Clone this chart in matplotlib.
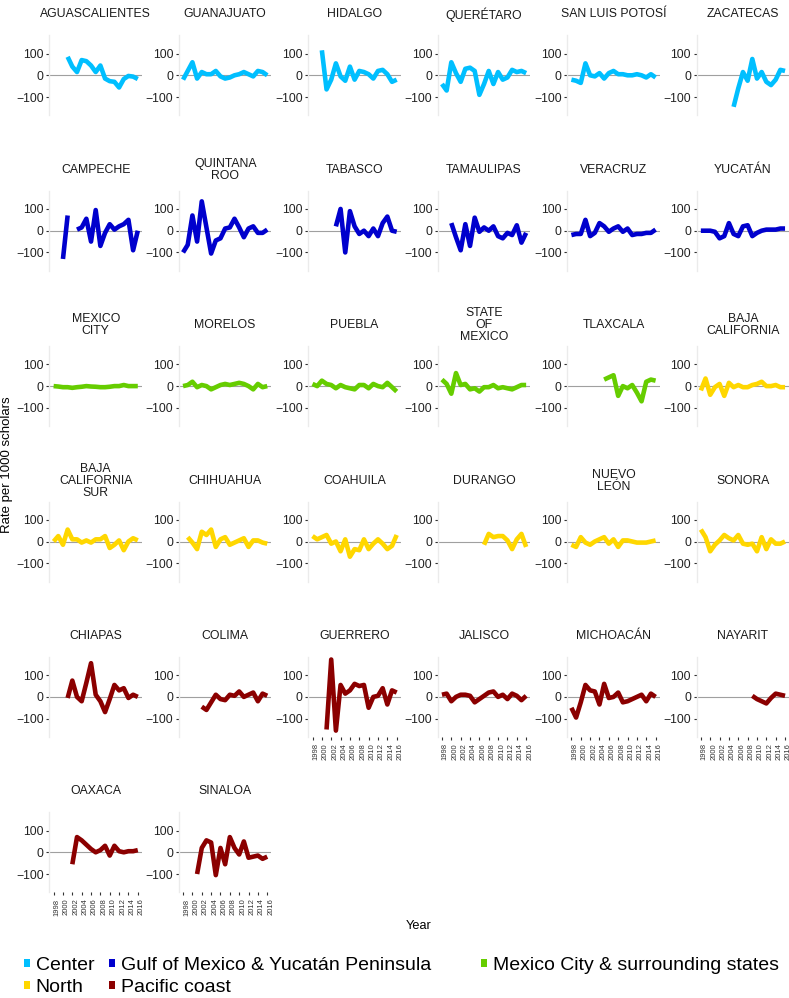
import numpy as np
import matplotlib
matplotlib.use("Agg")
import matplotlib.pyplot as plt
from matplotlib.patches import Patch

N = None
years = list(range(1998, 2017))

# ---- data (rate per 1000 scholars), 1998..2016 ----
aguascalientes = [N, N, N, 85, 40, 15, 70, 65, 45, 15, 45, -15, -27, -30, -56, -17, -3, -6, -17]
guanajuato = [-20, 20, 60, -15, 15, 5, 5, 20, -5, -15, -10, 0, 5, 15, 5, -5, 20, 15, 0]
hidalgo = [N, N, 115, -65, -20, 55, -5, -25, 40, -20, 20, 15, 5, -15, 20, 25, 5, -30, -20]
queretaro = [-40, -70, 60, 10, -30, 30, 35, 20, -90, -40, 20, -40, 15, -20, -10, 25, 15, 20, 10]
san_luis_potosi = [-20, -25, -35, 55, 0, -5, 10, -15, 10, 20, 5, 5, 0, 0, 5, 0, -10, 5, -10]
zacatecas = [N, N, N, N, N, N, N, -145, -60, 15, -25, 75, -15, 15, -30, -45, -20, 25, 20]

campeche = [N, N, -130, 70, N, 5, 15, 55, -50, 95, -70, -10, 30, 5, 20, 30, 50, -90, 0]
quintana_roo = [-100, -65, 70, -50, 135, 15, -105, -45, -35, 10, 15, 55, 15, -30, 10, 20, -10, -10, 5]
tabasco = [N, N, N, N, N, 20, 100, -100, 90, 20, -15, 0, -25, 10, -25, 35, 65, 0, -5]
tamaulipas = [N, N, 35, -30, -90, 30, -70, 60, -5, 15, 0, 20, -25, -35, -10, -20, 25, -55, -10]
veracruz = [-20, -15, -15, 50, -25, -10, 35, 20, -5, 10, 20, -5, 10, -20, -15, -15, -10, -10, 5]
yucatan = [0, 0, 0, -5, -35, -25, 35, -15, -25, 20, 25, -25, -10, 0, 5, 5, 5, 10, 10]

mexico_city = [0, -2, -5, -5, -8, -5, -3, 0, -2, -3, -5, -5, -3, 0, 0, 5, 0, 0, 0]
morelos = [0, 5, 20, -5, 5, 0, -15, -5, 5, 10, 5, 10, 15, 10, 0, -15, 10, -5, 0]
puebla = [10, 0, 25, 10, 5, -10, 5, -5, -10, -15, 5, 5, -10, 10, 0, -5, 15, -5, -25]
state_of_mexico = [30, 10, -35, 60, 5, 10, -15, -10, -25, -5, -5, 5, -10, -5, -10, -15, -5, 5, 5]
tlaxcala = [N, N, N, N, N, N, N, 30, 40, 50, -45, 0, -10, 5, -30, -70, 20, 30, 25]
baja_california = [-20, 35, -40, -5, 10, -45, 15, -5, 5, -5, -5, 5, 10, 20, 0, 0, 5, -5, -5]

baja_california_sur = [0, 25, -15, 55, 10, 10, -5, 5, -5, 10, 10, 25, -30, -15, 5, -40, 0, 15, 5]
chihuahua = [N, 20, -5, -35, 45, 30, 55, -25, 10, 20, -15, -5, 5, 15, -25, 5, 5, -5, -10]
coahuila = [25, 10, 20, 30, -10, 0, -45, 10, -70, -35, -40, 10, -35, -10, 10, -10, -35, -20, 30]
durango = [N, N, N, N, N, N, N, N, N, -15, 35, 20, 25, 25, 5, -35, 10, 35, -25]
nuevo_leon = [-15, -25, 20, -5, -15, 0, 10, 20, -10, 10, -25, 5, 5, 0, -5, -5, -5, 0, 5]
sonora = [55, 20, -45, -15, 5, 30, 15, 5, 30, -10, -15, -10, -45, 20, -35, 10, -10, -10, 0]

chiapas = [N, N, N, -5, 75, 0, -20, 65, 155, 10, -20, -70, -10, 55, 30, 40, -5, 10, 0]
colima = [N, N, N, N, -45, -60, -25, 10, -10, -15, 10, 5, 25, 0, 10, 20, -20, 15, 5]
guerrero = [N, N, N, -150, 172, -155, 55, 15, 30, 60, 50, 55, -50, 0, 5, 40, -35, 30, 20]
jalisco = [10, 15, -20, 0, 10, 10, 5, -25, -10, 5, 20, 25, 0, 10, -10, 15, 5, -15, 5]
michoacan = [-50, -95, -25, 55, 30, 25, -35, 60, -5, 0, 20, -25, -20, -10, 0, 10, -20, 15, 0]
nayarit = [N, N, N, N, N, N, N, N, N, N, N, 5, -10, -20, -30, -5, 15, 10, 5]
oaxaca = [N, N, N, N, -55, 70, 55, 35, 15, 0, 10, 30, -15, 30, 5, 0, 5, 5, 10]
sinaloa = [N, N, N, -100, 20, 55, 45, -105, 20, -55, 70, 20, -10, 50, -25, -20, -15, -30, -20]

state_names = ["AGUASCALIENTES", "GUANAJUATO", "HIDALGO", "QUERÉTARO", "SAN LUIS POTOSÍ", "ZACATECAS",
               "CAMPECHE", "QUINTANA\nROO", "TABASCO", "TAMAULIPAS", "VERACRUZ", "YUCATÁN",
               "MEXICO\nCITY", "MORELOS", "PUEBLA", "STATE\nOF\nMEXICO", "TLAXCALA", "BAJA\nCALIFORNIA",
               "BAJA\nCALIFORNIA\nSUR", "CHIHUAHUA", "COAHUILA", "DURANGO", "NUEVO\nLEÓN", "SONORA",
               "CHIAPAS", "COLIMA", "GUERRERO", "JALISCO", "MICHOACÁN", "NAYARIT",
               "OAXACA", "SINALOA"]
state_values = [aguascalientes, guanajuato, hidalgo, queretaro, san_luis_potosi, zacatecas,
                campeche, quintana_roo, tabasco, tamaulipas, veracruz, yucatan,
                mexico_city, morelos, puebla, state_of_mexico, tlaxcala, baja_california,
                baja_california_sur, chihuahua, coahuila, durango, nuevo_leon, sonora,
                chiapas, colima, guerrero, jalisco, michoacan, nayarit,
                oaxaca, sinaloa]
state_regions = ["Center"] * 6 + ["Gulf of Mexico & Yucatán Peninsula"] * 6 + \
    ["Mexico City & surrounding states"] * 5 + ["North"] * 7 + ["Pacific coast"] * 8

region_names = ["Center", "Gulf of Mexico & Yucatán Peninsula", "Mexico City & surrounding states",
                "North", "Pacific coast"]
region_colors = ["#00BFFF", "#0000CD", "#66CD00", "#FFD700", "#8B0000"]
color_of = dict(zip(region_names, region_colors))

# ---- layout ----
W, H = 789, 998
fig = plt.figure(figsize=(W / 100, H / 100), dpi=100)
plt.rcParams['font.family'] = ['Liberation Sans', 'DejaVu Sans']

ncol = 6
n = len(state_names)
pw, ph = 92.6, 80.0
for i, (name, vals, reg) in enumerate(zip(state_names, state_values, state_regions)):
    r, c = divmod(i, ncol)
    left = 49.4 + 129.45 * c
    zero = 75.3 + 155.4 * r
    top = zero - 40
    ax = fig.add_axes([left / W, 1 - (top + ph) / H, pw / W, ph / H])
    y = np.array([np.nan if v is None else v for v in vals], dtype=float)
    ax.axhline(0, color="#a0a0a0", lw=0.8, zorder=1)
    ax.plot(years, y, color=color_of[reg], lw=3.3, solid_capstyle="butt",
            solid_joinstyle="round", zorder=2)
    ax.set_xlim(1998 - 0.9, 2016 + 0.9)
    ax.set_ylim(-184, 184)
    ax.set_yticks([-100, 0, 100])
    ax.tick_params(axis="y", length=2.5, width=0.8, pad=1.5, labelsize=8.8,
                   colors="#333333", labelcolor="#222222")
    for s in ["top", "right", "bottom"]:
        ax.spines[s].set_visible(False)
    ax.spines["left"].set_color("#ebebeb")
    ax.spines["left"].set_linewidth(1.0)
    ax.set_facecolor("none")
    below = i + ncol
    if below >= n:
        ax.set_xticks(list(range(1998, 2017, 2)))
        ax.set_xticklabels([str(v) for v in range(1998, 2017, 2)], rotation=90,
                           ha="left", va="top", fontsize=5.5, color="#222222")
        ax.tick_params(axis="x", length=2.5, width=0.8, pad=2, colors="#333333")
    else:
        ax.set_xticks([])
    ax.text(0.5, 1 + 21 / ph, name, transform=ax.transAxes, ha="center", va="center",
            fontsize=8.8, color="#1a1a1a", linespacing=1.0)

fig.text(419 / W, 1 - 926 / H, "Year", ha="center", va="center", fontsize=9.2, color="black")
fig.text(7 / W, 1 - 465 / H, "Rate per 1000 scholars", ha="center", va="center",
         rotation=90, fontsize=9.5, color="black")

# ---- legend: three columns ----
handles = [Patch(facecolor=col, edgecolor="none") for col in region_colors]
legend_cols = [([0, 3], 24), ([1, 4], 109), ([2], 481)]
for idxs, xpx in legend_cols:
    lg = fig.legend([handles[k] for k in idxs], [region_names[k] for k in idxs],
                    loc="upper left", bbox_to_anchor=(xpx / W, 1 - 957 / H),
                    frameon=False, fontsize=14, handlelength=0.3, handleheight=0.3,
                    handletextpad=0.3, labelspacing=0.26, borderpad=0, borderaxespad=0)

fig.savefig("out.png", dpi=100, facecolor="white")
